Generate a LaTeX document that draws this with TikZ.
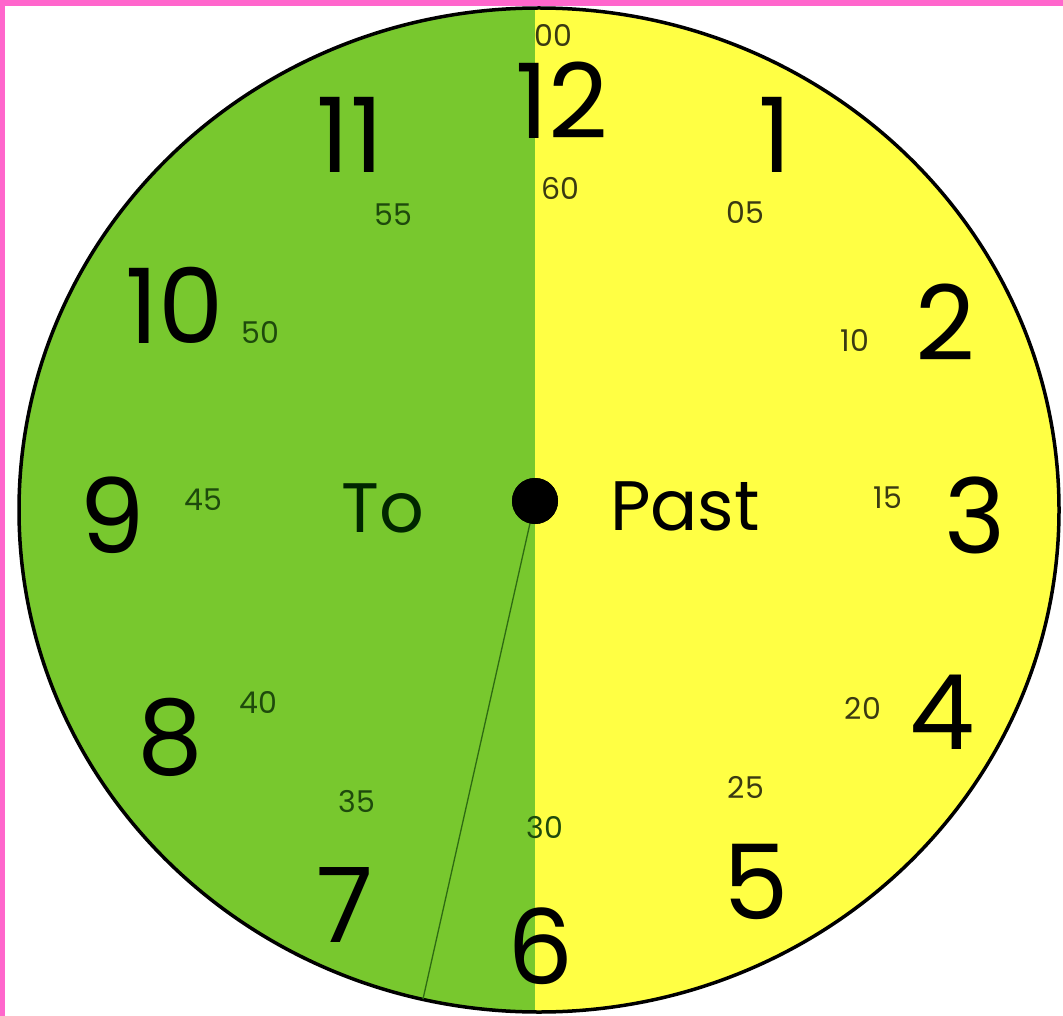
\documentclass[tikz,border=0pt]{standalone}
\usepackage{fontspec}
\setmainfont{Poppins}
\definecolor{framepink}{HTML}{FF66CC}
\definecolor{facegreen}{HTML}{78C82E}
\definecolor{faceyellow}{HTML}{FFFF44}
\definecolor{minutegreen}{HTML}{1E4A0C}
\definecolor{minuteolive}{HTML}{3A3A12}
\definecolor{handgreen}{HTML}{2E6A12}
\begin{document}
\begin{tikzpicture}[x=1pt,y=-1pt,
  hour/.style={font=\fontsize{104}{104}\selectfont, inner sep=0pt, text=black},
  minG/.style={font=\fontsize{30}{30}\selectfont, inner sep=0pt, text=minutegreen},
  minY/.style={font=\fontsize{30}{30}\selectfont, inner sep=0pt, text=minuteolive},
  word/.style={font=\fontsize{70}{70}\selectfont, inner sep=0pt, text=black!85!green},
  face/.style={line width=3.5pt, draw=black}]
\useasboundingbox (0,0) rectangle (1063,1016);
\fill[white] (0,0) rectangle (1063,1016);
\fill[framepink] (0,0) rectangle (1063,6);
\fill[framepink] (0,0) rectangle (5,1016);
% clock face
\coordinate (c) at (539,510);
\begin{scope}
  \clip (c) ellipse [x radius=520pt, y radius=502pt];
  \fill[facegreen] (0,0) rectangle (535,1016);
  \fill[faceyellow] (535,0) rectangle (1063,1016);
\end{scope}
\draw[face] (c) ellipse [x radius=520pt, y radius=502pt];
% hand
\node[circle, fill=black, minimum size=46pt, inner sep=0pt] (dot) at (535,501) {};
\coordinate (tip) at (423,999);
\draw[handgreen, line width=1.3pt] (dot.center) -- (tip);
\node[circle, fill=black, minimum size=46pt, inner sep=0pt] at (dot) {};
% hour numbers
\node[hour] (h12) at (562,100) {12};
\node[hour] (h1) at (775,135) {1};
\node[hour] (h2) at (945,322) {2};
\node[hour] (h3) at (975,515) {3};
\node[hour] (h4) at (942,712) {4};
\node[hour] (h5) at (756,882) {5};
\node[hour] (h6) at (541,946) {6};
\node[hour] (h7) at (345,905) {7};
\node[hour] (h8) at (170,737) {8};
\node[hour] (h9) at (112,515) {9};
\node[hour] (h10) at (175,305) {10};
\node[hour] (h11) at (350,135) {11};
% minute numbers
\node[minY] (m00) at (553,35) {00};
\node[minY] (m60) at (560,188) {60};
\node[minY] (m05) at (745,213) {05};
\node[minY] (m10) at (855,340) {10};
\node[minY] (m15) at (888,498) {15};
\node[minY] (m20) at (863,708) {20};
\node[minY] (m25) at (746,787) {25};
\node[minG] (m30) at (545,828) {30};
\node[minG] (m35) at (357,802) {35};
\node[minG] (m40) at (258,702) {40};
\node[minG] (m45) at (203,500) {45};
\node[minG] (m50) at (260,333) {50};
\node[minG] (m55) at (393,215) {55};
% words
\node[word] (to) at (383,508) {To};
\node[word, text=black] (past) at (685,506) {Past};
\end{tikzpicture}
\end{document}
